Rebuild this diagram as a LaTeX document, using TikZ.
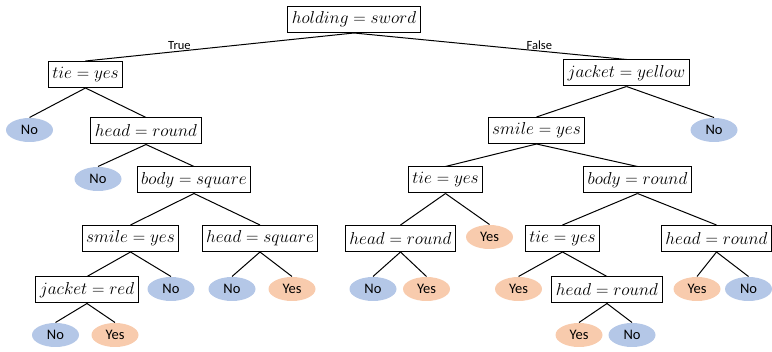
\documentclass[tikz,border=0pt]{standalone}
\usepackage{fontspec}
\setsansfont{Carlito}
\usepackage{tikz}
\usetikzlibrary{shapes.geometric}

\definecolor{noblue}{RGB}{180,199,231}
\definecolor{yesorange}{RGB}{248,203,173}

\tikzset{
  test/.style={draw, fill=white, line width=1pt, inner xsep=4pt, inner ysep=2pt, minimum height=26pt,
    font=\fontsize{17.5}{19}\selectfont},
  leaf/.style={ellipse, inner sep=0pt, minimum width=47pt, minimum height=24pt,
    font=\sffamily\fontsize{14.5}{16}\selectfont},
  no/.style={leaf, fill=noblue},
  yes/.style={leaf, fill=yesorange},
  branch/.style={font=\sffamily\fontsize{12.5}{14}\selectfont, above, inner sep=1pt}
}

\begin{document}
\begin{tikzpicture}[x=1pt, y=-1pt, line width=1pt]
	\useasboundingbox (0,0) rectangle (772,352);
	\node [test] (H) at (354, 19.5) {$holding = sword$};
	% true branch
	\node [test] (T) at (85.5, 74.5) {$tie = yes$};
	\node [no] (TN) at (29.5, 130) {No};
	\node [test] (TH) at (146, 131) {$head = round$};
	\node [no] (THN) at (98, 179) {No};
	\node [test] (THB) at (194, 180) {$body = square$};
	\node [test] (THBS) at (130.5, 238.5) {$smile = yes$};
	\node [test] (THBH) at (260, 238.5) {$head = square$};
	\node [test] (THBSJ) at (87, 290) {$jacket = red$};
	\node [no] (THBSN) at (171, 289) {No};
	\node [no] (THBHN) at (232, 289) {No};
	\node [yes] (THBHY) at (292, 289) {Yes};
	\node [no] (THBSJN) at (55.5, 335) {No};
	\node [yes] (THBSJY) at (115, 335) {Yes};
	% false branch
	\node [test] (F) at (626.5, 73) {$jacket = yellow$};
	\node [test] (FS) at (536.5, 130.5) {$smile = yes$};
	\node [no] (FN) at (714, 130) {No};
	\node [test] (FST) at (445.5, 180) {$tie = yes$};
	\node [test] (FSB) at (637.5, 180) {$body = round$};
	\node [test] (FSTH) at (400.5, 238.5) {$head = round$};
	\node [yes] (FSTY) at (489.5, 237) {Yes};
	\node [no] (FSTHN) at (373, 289) {No};
	\node [yes] (FSTHY) at (426.5, 289) {Yes};
	\node [test] (FSBT) at (562.5, 238.5) {$tie = yes$};
	\node [test] (FSBH) at (716.5, 238.5) {$head = round$};
	\node [yes] (FSBTY) at (518.5, 289) {Yes};
	\node [test] (FSBTH) at (607, 290) {$head = round$};
	\node [yes] (FSBHY) at (697, 289) {Yes};
	\node [no] (FSBHN) at (748.5, 289) {No};
	\node [yes] (FSBTHY) at (579, 335) {Yes};
	\node [no] (FSBTHN) at (632, 335) {No};
	% edges
	\draw (H.south) -- node [branch, pos=0.65] {True} (T.north);
	\draw (H.south) -- node [branch, pos=0.68] {False} (F.north);
	\draw (T.south) -- (TN.north);
	\draw (T.south) -- (TH.north);
	\draw (TH.south) -- (THN.north);
	\draw (TH.south) -- (THB.north);
	\draw (THB.south) -- (THBS.north);
	\draw (THB.south) -- (THBH.north);
	\draw (THBS.south) -- (THBSJ.north);
	\draw (THBS.south) -- (THBSN.north);
	\draw (THBH.south) -- (THBHN.north);
	\draw (THBH.south) -- (THBHY.north);
	\draw (THBSJ.south) -- (THBSJN.north);
	\draw (THBSJ.south) -- (THBSJY.north);
	\draw (F.south) -- (FS.north);
	\draw (F.south) -- (FN.north);
	\draw (FS.south) -- (FST.north);
	\draw (FS.south) -- (FSB.north);
	\draw (FST.south) -- (FSTH.north);
	\draw (FST.south) -- (FSTY.north);
	\draw (FSTH.south) -- (FSTHN.north);
	\draw (FSTH.south) -- (FSTHY.north);
	\draw (FSB.south) -- (FSBT.north);
	\draw (FSB.south) -- (FSBH.north);
	\draw (FSBT.south) -- (FSBTY.north);
	\draw (FSBT.south) -- (FSBTH.north);
	\draw (FSBH.south) -- (FSBHY.north);
	\draw (FSBH.south) -- (FSBHN.north);
	\draw (FSBTH.south) -- (FSBTHY.north);
	\draw (FSBTH.south) -- (FSBTHN.north);
\end{tikzpicture}
\end{document}
